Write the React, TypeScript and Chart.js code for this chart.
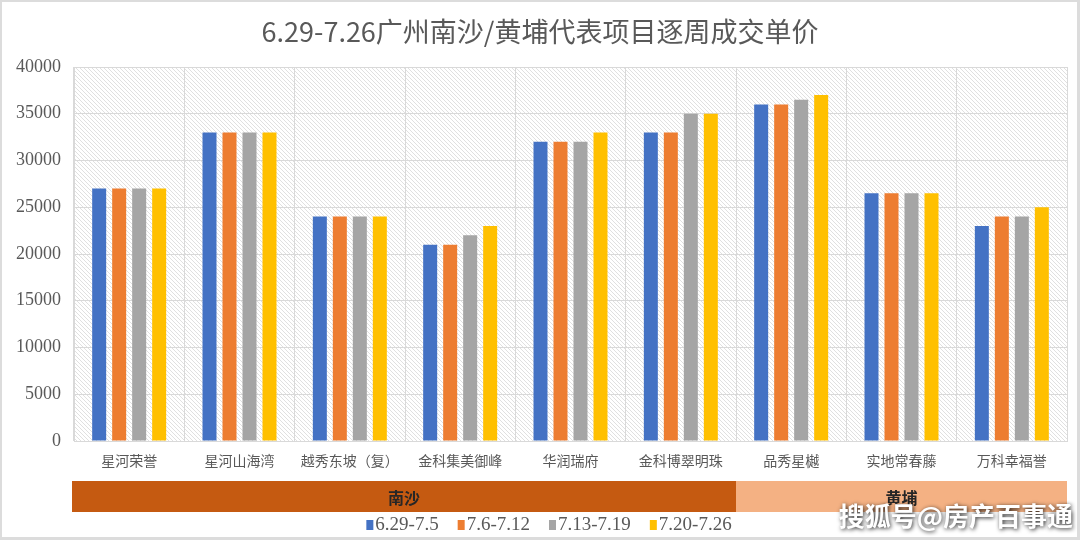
import React, { useEffect, useRef } from "react";
import { Chart, registerables } from "chart.js";

Chart.register(...registerables);

const titleText = "6.29-7.26广州南沙/黄埔代表项目逐周成交单价";
const categories = ["星河荣誉", "星河山海湾", "越秀东坡（复）", "金科集美御峰", "华润瑞府", "金科博翠明珠", "品秀星樾", "实地常春藤", "万科幸福誉"];
const seriesLabels = ["6.29-7.5", "7.6-7.12", "7.13-7.19", "7.20-7.26"];
const week1 = [27000, 33000, 24000, 21000, 32000, 33000, 36000, 26500, 23000];
const week2 = [27000, 33000, 24000, 21000, 32000, 33000, 36000, 26500, 24000];
const week3 = [27000, 33000, 24000, 22000, 32000, 35000, 36500, 26500, 24000];
const week4 = [27000, 33000, 24000, 23000, 33000, 35000, 37000, 26500, 25000];
const seriesColors = ["#4472C4", "#ED7D31", "#A5A5A5", "#FFC000"];
const regionNames = ["南沙", "黄埔"];
const regionCounts = [6, 3];
const regionColors = ["#C55A11", "#F4B183"];
const watermark = "搜狐号@房产百事通";

const CJK = '"Noto Sans CJK SC", "Noto Sans", sans-serif';
const SERIF = '"Liberation Serif", "DejaVu Serif", serif';

function makePattern(ctx: CanvasRenderingContext2D) {
  const c = document.createElement("canvas");
  c.width = 4;
  c.height = 4;
  const p = c.getContext("2d")!;
  p.fillStyle = "#ffffff";
  p.fillRect(0, 0, 4, 4);
  p.strokeStyle = "#e0e0e0";
  p.lineWidth = 1;
  p.beginPath();
  p.moveTo(-1, -1);
  p.lineTo(5, 5);
  p.stroke();
  return ctx.createPattern(c, "repeat");
}

const decorPlugin = {
  id: "decor",
  beforeDraw(chart: any) {
    const { ctx, chartArea } = chart;
    ctx.save();
    ctx.fillStyle = "#ffffff";
    ctx.fillRect(0, 0, chart.width, chart.height);
    const pat = makePattern(ctx);
    if (pat) {
      ctx.fillStyle = pat;
      ctx.fillRect(chartArea.left, chartArea.top, chartArea.right - chartArea.left, chartArea.bottom - chartArea.top);
    }
    ctx.restore();
  },
  afterDraw(chart: any) {
    const { ctx, chartArea } = chart;
    const xs = chart.scales.x;
    ctx.save();
    // title
    ctx.fillStyle = "#595959";
    ctx.font = `27px ${CJK}`;
    ctx.textAlign = "center";
    ctx.textBaseline = "middle";
    ctx.fillText(titleText, 540, 32);

    // region band
    const bandTop = 481;
    const bandH = 31;
    let start = 0;
    regionNames.forEach((name, i) => {
      const end = start + regionCounts[i] - 1;
      const half = (xs.getPixelForValue(1) - xs.getPixelForValue(0)) / 2;
      let x0 = xs.getPixelForValue(start) - half;
      const x1 = xs.getPixelForValue(end) + half;
      if (i === 0) x0 = chartArea.left - 2;
      ctx.fillStyle = regionColors[i];
      ctx.fillRect(x0, bandTop, x1 - x0, bandH);
      ctx.fillStyle = "#262626";
      ctx.font = `bold 16px ${CJK}`;
      ctx.fillText(name, (x0 + x1) / 2, bandTop + bandH / 2 + 1);
      start = end + 1;
    });

    // legend
    ctx.font = `19px ${SERIF}`;
    ctx.textAlign = "left";
    const boxW = 7, boxH = 10, gapBox = 2, gapItem = 19;
    const widths = chart.data.datasets.map((d: any) => boxW + gapBox + ctx.measureText(d.label).width);
    const total = widths.reduce((a: number, b: number) => a + b, 0) + gapItem * (widths.length - 1);
    let x = 549 - total / 2;
    const ly = 524;
    chart.data.datasets.forEach((d: any, i: number) => {
      ctx.fillStyle = d.backgroundColor;
      ctx.fillRect(x, ly - boxH / 2 + 1, boxW, boxH);
      ctx.fillStyle = "#595959";
      ctx.fillText(d.label, x + boxW + gapBox, ly + 1);
      x += widths[i] + gapItem;
    });

    // watermark
    ctx.font = `bold 26px ${CJK}`;
    ctx.textAlign = "right";
    ctx.shadowColor = "rgba(0,0,0,0.85)";
    ctx.shadowBlur = 4;
    ctx.shadowOffsetX = 1;
    ctx.shadowOffsetY = 1;
    ctx.fillStyle = "#ffffff";
    ctx.fillText(watermark, 1073, 516);
    ctx.shadowColor = "transparent";

    // frame
    ctx.strokeStyle = "#dcdcdc";
    ctx.lineWidth = 3;
    ctx.strokeRect(0.5, 0.5, chart.width - 2, chart.height - 4);
    ctx.restore();
  },
};

export default function App() {
  const ref = useRef<HTMLCanvasElement | null>(null);
  useEffect(() => {
    if (!ref.current) return;
    const series = [week1, week2, week3, week4];
    const chart = new Chart(ref.current, {
      type: "bar",
      data: {
        labels: categories,
        datasets: series.map((d, i) => ({
          label: seriesLabels[i],
          data: d,
          backgroundColor: seriesColors[i],
          borderWidth: 0,
          categoryPercentage: 0.725,
          barPercentage: 0.7,
        })),
      },
      options: {
        animation: false,
        responsive: true,
        maintainAspectRatio: false,
        layout: { padding: { top: 67, right: 13, left: 0, bottom: 0 } },
        plugins: {
          legend: { display: false },
          title: { display: false },
          tooltip: { enabled: false },
        },
        scales: {
          x: {
            grid: { color: "#d9d9d9", drawTicks: false, offset: true },
            border: { color: "#d9d9d9" },
            ticks: { color: "#595959", font: { family: CJK, size: 14 }, padding: 11, maxRotation: 0, autoSkip: false },
            afterFit: (s: any) => { s.height = 101; },
          },
          y: {
            min: 0,
            max: 40000,
            ticks: {
              stepSize: 5000,
              color: "#595959",
              font: { family: SERIF, size: 18 },
              padding: 13,
              callback: (v: any) => String(v),
            },
            grid: { color: "#d9d9d9", drawTicks: false },
            border: { color: "#d9d9d9" },
            afterFit: (s: any) => { s.width = 74; },
          },
        },
      },
      plugins: [decorPlugin],
    });
    return () => chart.destroy();
  }, []);
  return (
    <div style={{ position: "absolute", left: 0, top: 0, width: 1080, height: 542 }}>
      <canvas ref={ref} />
    </div>
  );
}
